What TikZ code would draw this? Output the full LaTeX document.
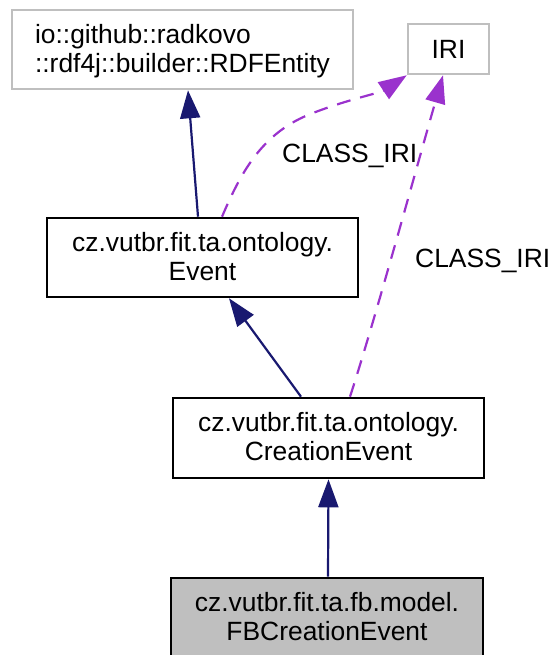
\documentclass[tikz,border=0pt]{standalone}
\usepackage{fontspec}
\setmainfont{Liberation Sans}
\usetikzlibrary{arrows.meta}
\definecolor{navyedge}{HTML}{191970}
\definecolor{purpleedge}{HTML}{9A32CD}
\definecolor{boxgray}{HTML}{BFBFBF}
\begin{document}
\begin{tikzpicture}[x=1pt,y=1pt,
  cls/.style={draw=black, line width=2.6pt, inner sep=0pt, align=center,
    font=\fontsize{26.4}{29}\selectfont, minimum height=79pt, text depth=3pt},
  ext/.style={cls, draw=boxgray},
  inh/.style={draw=navyedge, line width=2.2pt, -{Triangle[length=28pt,width=20pt]}},
  use/.style={draw=purpleedge, line width=2.2pt, dash pattern=on 14pt off 10pt,
    -{Triangle[length=28pt,width=20pt]}},
  lbl/.style={font=\fontsize{26.4}{29}\selectfont, inner sep=0pt, anchor=base west}]
\useasboundingbox (0,0) rectangle (552,655);
\node[ext, minimum width=341pt, align=left] (rdf) at (182.5,605.5)
  {io::github::radkovo\\::rdf4j::builder::RDFEntity};
\node[ext, minimum width=81pt, minimum height=50pt, text depth=0pt] (iri) at (448.5,606) {IRI};
\node[cls, minimum width=311pt] (event) at (202.5,397.5)
  {cz.vutbr.fit.ta.ontology.\\Event};
\node[cls, minimum width=311pt, minimum height=80pt] (creation) at (328.5,217)
  {cz.vutbr.fit.ta.ontology.\\CreationEvent};
\node[cls, fill=boxgray, minimum width=312pt] (fb) at (327,37.5)
  {cz.vutbr.fit.ta.fb.model.\\FBCreationEvent};
% inheritance
\draw[inh] ([xshift=-4.5pt]event.north) -- ([xshift=5.5pt]rdf.south);
\draw[inh] ([xshift=-27.5pt]creation.north) -- ([xshift=26.5pt]event.south);
\draw[inh] ([xshift=1pt]fb.north) -- (creation.south);
% usage
\draw[use] ([xshift=19.5pt]event.north) .. controls (240,480) and (260,520) .. (308,540)
  .. controls (345,555) and (380,562) .. (iri.south west);
\draw[use] ([xshift=21.5pt]creation.north) .. controls (375,335) and (420,500) .. ([xshift=-5.5pt]iri.south);
\node[lbl] (l1) at (282,492) {CLASS\_IRI};
\node[lbl] (l2) at (415,387) {CLASS\_IRI};
\end{tikzpicture}
\end{document}
